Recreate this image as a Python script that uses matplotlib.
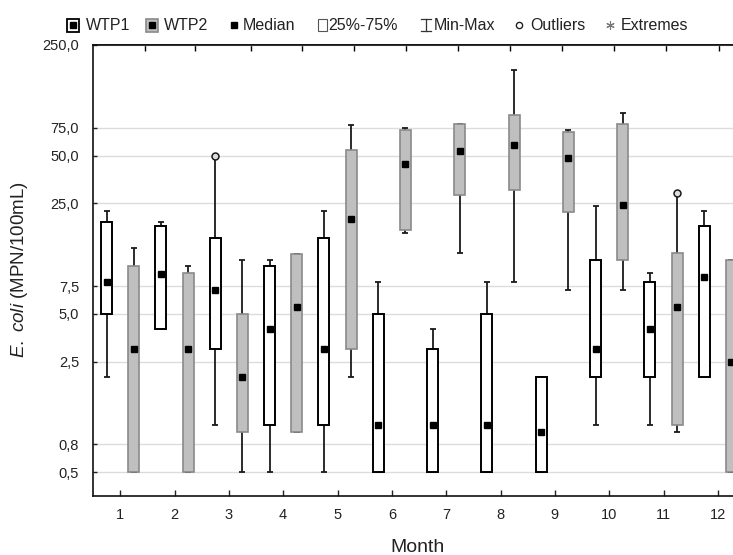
import numpy as np
import matplotlib
matplotlib.use("Agg")
import matplotlib.pyplot as plt
from matplotlib.patches import Rectangle
from matplotlib.lines import Line2D
from matplotlib.ticker import NullLocator

plt.rcParams['font.family'] = ['Liberation Sans', 'DejaVu Sans']
plt.rcParams['mathtext.fontset'] = 'custom'
plt.rcParams['mathtext.it'] = 'Liberation Sans:italic'
plt.rcParams['mathtext.rm'] = 'Liberation Sans'

# data (MPN/100mL)
months = [1, 2, 3, 4, 5, 6, 7, 8, 9, 10, 11, 12]

wtp1_min = [2.0, 4.0, 1.0, 0.5, 0.5, 0.5, 0.5, 0.5, 0.5, 1.0, 1.0, 2.0]
wtp1_q1 = [5.0, 4.0, 3.0, 1.0, 1.0, 0.5, 0.5, 0.5, 0.5, 2.0, 2.0, 2.0]
wtp1_med = [8.0, 9.0, 7.1, 4.0, 3.0, 1.0, 1.0, 1.0, 0.9, 3.0, 4.0, 8.5]
wtp1_q3 = [19.0, 18.1, 15.0, 10.1, 15.0, 5.0, 3.0, 5.0, 2.0, 11.0, 8.0, 18.1]
wtp1_max = [22.2, 19.1, 50.0, 11.0, 22.2, 8.0, 4.0, 8.0, 2.0, 24.0, 9.1, 22.2]

wtp2_min = [0.5, 0.5, 0.5, 0.9, 2.0, 16.3, 12.2, 8.0, 7.1, 7.1, 0.9, 0.5]
wtp2_q1 = [0.5, 0.5, 0.9, 0.9, 3.0, 17.0, 28.2, 30.2, 22.1, 11.0, 1.0, 0.5]
wtp2_med = [3.0, 3.0, 2.0, 5.5, 20.0, 44.3, 53.3, 58.7, 48.6, 24.5, 5.5, 2.5]
wtp2_q3 = [10.0, 9.1, 5.0, 12.0, 54.3, 72.6, 79.7, 90.0, 70.6, 79.7, 12.2, 11.0]
wtp2_max = [13.1, 10.1, 11.0, 12.0, 78.6, 74.5, 79.7, 174.0, 72.3, 92.7, 29.2, 11.0]

# outliers: (month, value)
wtp1_out_month = [3]
wtp1_out_val = [50.0]
wtp2_out_month = [11]
wtp2_out_val = [29.2]

ytick_vals = [0.5, 0.75, 2.5, 5.0, 7.5, 25.0, 50.0, 75.0, 250.0]
ytick_labels = ["0,5", "0,8", "2,5", "5,0", "7,5", "25,0", "50,0", "75,0", "250,0"]

W, H = 733, 555
fig = plt.figure(figsize=(W / 100, H / 100), dpi=100)
ax = fig.add_axes([93 / W, (H - 496) / H, 652 / W, 451 / H])
ax.set_yscale('log')
ax.set_xlim(0.5, 12.5)
ax.set_ylim(0.354, 250)

line_col = '#1a1a1a'
cap = 0.055
box_w = 0.2


def draw_boxes(offset, mins, q1s, meds, q3s, maxs, face, edge, lw):
    x = np.array(months) + offset
    ax.vlines(x, mins, q1s, color=line_col, lw=1.3, zorder=2)
    ax.vlines(x, q3s, maxs, color=line_col, lw=1.3, zorder=2)
    ax.hlines(mins, x - cap, x + cap, color=line_col, lw=1.3, zorder=2)
    ax.hlines(maxs, x - cap, x + cap, color=line_col, lw=1.3, zorder=2)
    ax.bar(x, np.array(q3s) - np.array(q1s), bottom=q1s, width=box_w,
           color=face, edgecolor=edge, linewidth=lw, zorder=3)
    ax.plot(x, meds, 's', color='black', ms=5, zorder=4)


draw_boxes(-0.25, wtp1_min, wtp1_q1, wtp1_med, wtp1_q3, wtp1_max, 'white', 'black', 1.4)
draw_boxes(0.25, wtp2_min, wtp2_q1, wtp2_med, wtp2_q3, wtp2_max, '#bfbfbf', '#8a8a8a', 1.2)

ax.plot(np.array(wtp1_out_month) - 0.25, wtp1_out_val, 'o', mfc='#dddddd', mec=line_col, ms=5, mew=1.1, zorder=5)
ax.plot(np.array(wtp2_out_month) + 0.25, wtp2_out_val, 'o', mfc='#dddddd', mec=line_col, ms=5, mew=1.1, zorder=5)

# axes styling
ax.set_yticks(ytick_vals)
ax.set_yticklabels(ytick_labels)
ax.yaxis.set_minor_locator(NullLocator())
ax.set_xticks(months)
ax.set_xticklabels([str(m) for m in months])
ax.tick_params(axis='y', direction='in', length=3, width=1, labelsize=10.5, pad=10, colors='#222222')
ax.tick_params(axis='x', direction='in', length=4, width=1, labelsize=10.5, pad=8.5, colors='#222222')
ax.yaxis.grid(True, color='#dcdcdc', lw=1)
ax.set_axisbelow(True)
for s in ['left', 'bottom', 'top']:
    ax.spines[s].set_linewidth(1.2)
    ax.spines[s].set_color('#111111')
ax.spines['right'].set_visible(False)

top = ax.secondary_xaxis('top', functions=(lambda v: v, lambda v: v))
top.set_xticks([1.46, 2.38, 3.40, 4.35, 5.30, 6.26, 7.22, 8.18, 9.14, 10.09, 11.05, 12.02])
top.set_xticklabels([])
top.tick_params(direction='in', length=4, width=1)
top.spines['top'].set_linewidth(1.2)

fig.text(418 / W, 1 - 547 / H, 'Month', ha='center', va='center', fontsize=14, color='#222222')
fig.text(20 / W, 1 - 270 / H, r'$\mathit{E.\ coli}$ (MPN/100mL)', rotation=90,
         ha='center', va='center', fontsize=13.5, color='#222222')


# legend drawn in pixel coordinates
def fx(px):
    return px / W


def fy(py):
    return 1 - py / H


ly = 25
leg_fs = 11.5
fig.patches.append(Rectangle((fx(67), fy(32)), 12 / W, 13 / H, transform=fig.transFigure,
                             facecolor='white', edgecolor='black', lw=1.3))
fig.add_artist(Line2D([fx(73)], [fy(ly)], marker='s', color='black', ms=4, transform=fig.transFigure))
fig.text(fx(86), fy(ly), 'WTP1', ha='left', va='center', fontsize=leg_fs, color='#222222')

fig.patches.append(Rectangle((fx(146), fy(32)), 12 / W, 13 / H, transform=fig.transFigure,
                             facecolor='#bfbfbf', edgecolor='#8a8a8a', lw=1.2))
fig.add_artist(Line2D([fx(152)], [fy(ly)], marker='s', color='black', ms=4, transform=fig.transFigure))
fig.text(fx(164), fy(ly), 'WTP2', ha='left', va='center', fontsize=leg_fs, color='#222222')

fig.add_artist(Line2D([fx(234)], [fy(ly)], marker='s', color='black', ms=3.8, transform=fig.transFigure))
fig.text(fx(243), fy(ly), 'Median', ha='left', va='center', fontsize=leg_fs, color='#222222')

fig.patches.append(Rectangle((fx(318), fy(31)), 9 / W, 12 / H, transform=fig.transFigure,
                             facecolor='white', edgecolor='#555555', lw=0.8))
fig.text(fx(328), fy(ly), '25%-75%', ha='left', va='center', fontsize=leg_fs, color='#222222')

fig.add_artist(Line2D([fx(421), fx(431)], [fy(19), fy(19)], color='#333333', lw=0.9, transform=fig.transFigure))
fig.add_artist(Line2D([fx(426), fx(426)], [fy(19), fy(31)], color='#333333', lw=0.9, transform=fig.transFigure))
fig.add_artist(Line2D([fx(421), fx(431)], [fy(31), fy(31)], color='#333333', lw=0.9, transform=fig.transFigure))
fig.text(fx(434), fy(ly), 'Min-Max', ha='left', va='center', fontsize=leg_fs, color='#222222')

fig.add_artist(Line2D([fx(519)], [fy(ly)], marker='o', mfc='white', mec='#222222', ms=4.5, mew=1,
                      transform=fig.transFigure))
fig.text(fx(530), fy(ly), 'Outliers', ha='left', va='center', fontsize=leg_fs, color='#222222')

fig.add_artist(Line2D([fx(610)], [fy(ly)], marker=(6, 2, 0), color='#777777', ms=6, mew=0.8,
                      transform=fig.transFigure))
fig.text(fx(621), fy(ly), 'Extremes', ha='left', va='center', fontsize=leg_fs, color='#222222')

fig.savefig('out.png', dpi=100)
